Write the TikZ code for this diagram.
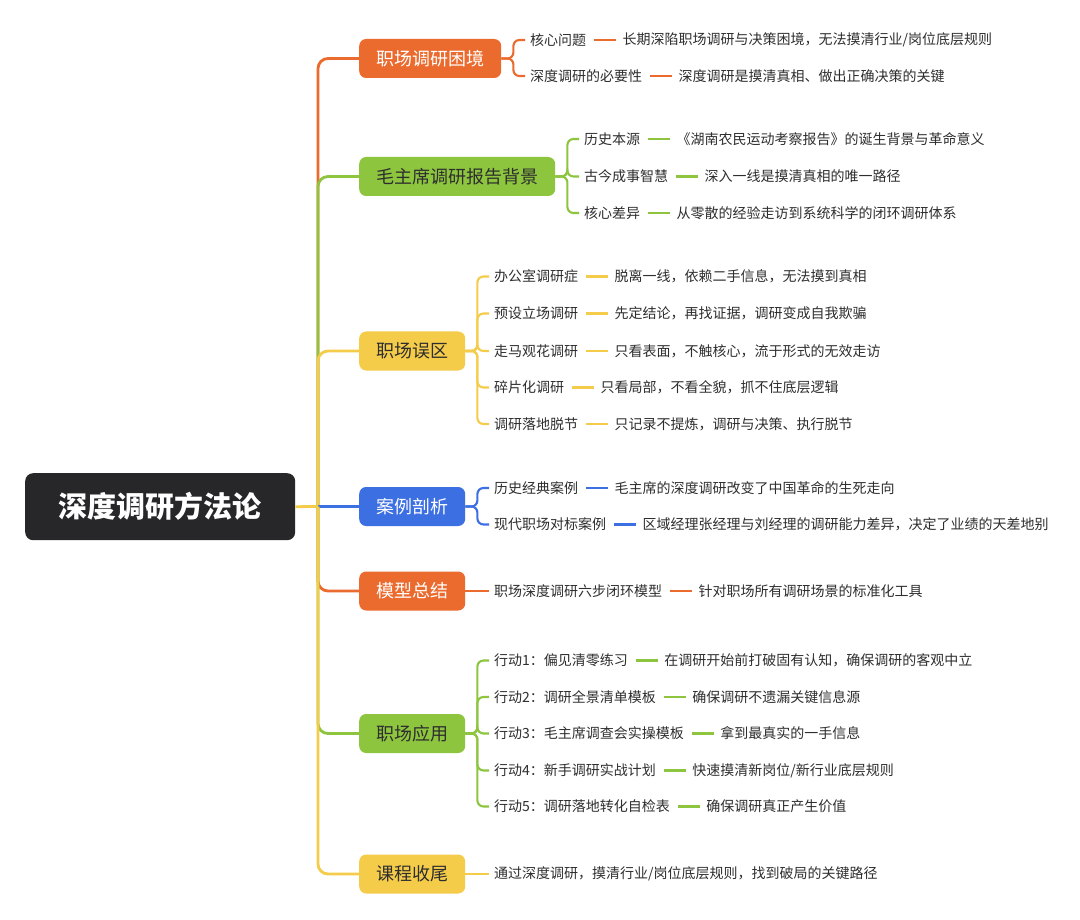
\documentclass[tikz,border=0pt]{standalone}
\usepackage{fontspec}
\setmainfont{Noto Sans CJK SC}
\usetikzlibrary{positioning}
\definecolor{cor}{HTML}{EB6A2E}
\definecolor{cgr}{HTML}{8DC53F}
\definecolor{cye}{HTML}{F4CC4A}
\definecolor{cbl}{HTML}{3C6FE2}
\definecolor{croot}{HTML}{27272A}
\definecolor{ctxt}{HTML}{2E2E2E}
\begin{document}
\begin{tikzpicture}[x=1pt,y=-1pt,
  rootbox/.style={fill=croot, rounded corners=8, text=white, font=\fontsize{29}{34}\selectfont\bfseries, minimum width=270, minimum height=67, inner sep=0},
  topic/.style={rounded corners=7, minimum height=39, inner xsep=17, inner ysep=0, font=\fontsize{18}{22}\selectfont, anchor=west, text=ctxt},
  leaf/.style={anchor=west, inner sep=0, text=ctxt, font=\fontsize{14}{17}\selectfont},
  detail/.style={leaf, right=36pt of #1},
  mainline/.style={line width=2.8, rounded corners=10},
  subline/.style={line width=2.1, rounded corners=6},
]
\useasboundingbox (0,0) rectangle (1080,920);
\fill[white] (0,0) rectangle (1080,920);

% root
\node[rootbox, anchor=north west] (root) at (25,473) {深度调研方法论};
\coordinate (J) at (318,506.5);

% topics
\node[topic, fill=cor, text=white] (t1) at (359,58.5) {职场调研困境};
\node[topic, fill=cgr] (t2) at (359,176.5) {毛主席调研报告背景};
\node[topic, fill=cye] (t3) at (359,351) {职场误区};
\node[topic, fill=cbl, text=white] (t4) at (359,506.5) {案例剖析};
\node[topic, fill=cor, text=white] (t5) at (359,591) {模型总结};
\node[topic, fill=cgr] (t6) at (359,733.5) {职场应用};
\node[topic, fill=cye] (t7) at (359,874) {课程收尾};

% main connectors
\draw[mainline, cor] (J) |- (t1.west);
\draw[mainline, cgr] (J) |- (t2.west);
\draw[mainline, cye] (J) |- (t3.west);
\draw[mainline, cbl] (J) -- (t4.west);
\draw[mainline, cor] (J) |- (t5.west);
\draw[mainline, cgr] (J) |- (t6.west);
\draw[mainline, cye] (J) |- (t7.west);
\draw[mainline, cye] (root.east) -- (J);

% branch 1
\node[leaf] (l11) at (530,40) {核心问题};
\node[detail=l11] (d11) {长期深陷职场调研与决策困境，无法摸清行业/岗位底层规则};
\node[leaf] (l12) at (530,76) {深度调研的必要性};
\node[detail=l12] (d12) {深度调研是摸清真相、做出正确决策的关键};
\foreach \l in {l11,l12}{\draw[subline, cor] (t1.east) -- ++(12,0) |- ([xshift=-5]\l.west);}
\foreach \l/\d in {l11/d11,l12/d12}{\draw[subline, cor] ([xshift=8]\l.east) -- ([xshift=-6]\d.west);}

% branch 2
\node[leaf] (l21) at (584,139) {历史本源};
\node[detail=l21] (d21) {《湖南农民运动考察报告》的诞生背景与革命意义};
\node[leaf] (l22) at (584,176.5) {古今成事智慧};
\node[detail=l22] (d22) {深入一线是摸清真相的唯一路径};
\node[leaf] (l23) at (584,213) {核心差异};
\node[detail=l23] (d23) {从零散的经验走访到系统科学的闭环调研体系};
\foreach \l in {l21,l22,l23}{\draw[subline, cgr] (t2.east) -- ++(12,0) |- ([xshift=-5]\l.west);}
\foreach \l/\d in {l21/d21,l22/d22,l23/d23}{\draw[subline, cgr] ([xshift=8]\l.east) -- ([xshift=-6]\d.west);}

% branch 3
\node[leaf] (l31) at (494,276.5) {办公室调研症};
\node[detail=l31] (d31) {脱离一线，依赖二手信息，无法摸到真相};
\node[leaf] (l32) at (494,313.5) {预设立场调研};
\node[detail=l32] (d32) {先定结论，再找证据，调研变成自我欺骗};
\node[leaf] (l33) at (494,351) {走马观花调研};
\node[detail=l33] (d33) {只看表面，不触核心，流于形式的无效走访};
\node[leaf] (l34) at (494,387.5) {碎片化调研};
\node[detail=l34] (d34) {只看局部，不看全貌，抓不住底层逻辑};
\node[leaf] (l35) at (494,424) {调研落地脱节};
\node[detail=l35] (d35) {只记录不提炼，调研与决策、执行脱节};
\foreach \l in {l31,l32,l33,l34,l35}{\draw[subline, cye] (t3.east) -- ++(12,0) |- ([xshift=-5]\l.west);}
\foreach \l/\d in {l31/d31,l32/d32,l33/d33,l34/d34,l35/d35}{\draw[subline, cye] ([xshift=8]\l.east) -- ([xshift=-6]\d.west);}

% branch 4
\node[leaf] (l41) at (494,488) {历史经典案例};
\node[detail=l41] (d41) {毛主席的深度调研改变了中国革命的生死走向};
\node[leaf] (l42) at (494,524.5) {现代职场对标案例};
\node[detail=l42] (d42) {区域经理张经理与刘经理的调研能力差异，决定了业绩的天差地别};
\foreach \l in {l41,l42}{\draw[subline, cbl] (t4.east) -- ++(12,0) |- ([xshift=-5]\l.west);}
\foreach \l/\d in {l41/d41,l42/d42}{\draw[subline, cbl] ([xshift=8]\l.east) -- ([xshift=-6]\d.west);}

% branch 5
\node[leaf] (l51) at (494,591) {职场深度调研六步闭环模型};
\node[detail=l51] (d51) {针对职场所有调研场景的标准化工具};
\draw[subline, cor] (t5.east) -- ([xshift=-5]l51.west);
\draw[subline, cor] ([xshift=8]l51.east) -- ([xshift=-6]d51.west);

% branch 6
\node[leaf] (l61) at (494,660.5) {行动1：偏见清零练习};
\node[detail=l61] (d61) {在调研开始前打破固有认知，确保调研的客观中立};
\node[leaf] (l62) at (494,697) {行动2：调研全景清单模板};
\node[detail=l62] (d62) {确保调研不遗漏关键信息源};
\node[leaf] (l63) at (494,733.5) {行动3：毛主席调查会实操模板};
\node[detail=l63] (d63) {拿到最真实的一手信息};
\node[leaf] (l64) at (494,770.5) {行动4：新手调研实战计划};
\node[detail=l64] (d64) {快速摸清新岗位/新行业底层规则};
\node[leaf] (l65) at (494,806.5) {行动5：调研落地转化自检表};
\node[detail=l65] (d65) {确保调研真正产生价值};
\foreach \l in {l61,l62,l63,l64,l65}{\draw[subline, cgr] (t6.east) -- ++(12,0) |- ([xshift=-5]\l.west);}
\foreach \l/\d in {l61/d61,l62/d62,l63/d63,l64/d64,l65/d65}{\draw[subline, cgr] ([xshift=8]\l.east) -- ([xshift=-6]\d.west);}

% branch 7
\node[leaf] (l71) at (494,874) {通过深度调研，摸清行业/岗位底层规则，找到破局的关键路径};
\draw[subline, cye] (t7.east) -- ([xshift=-5]l71.west);
\end{tikzpicture}
\end{document}
